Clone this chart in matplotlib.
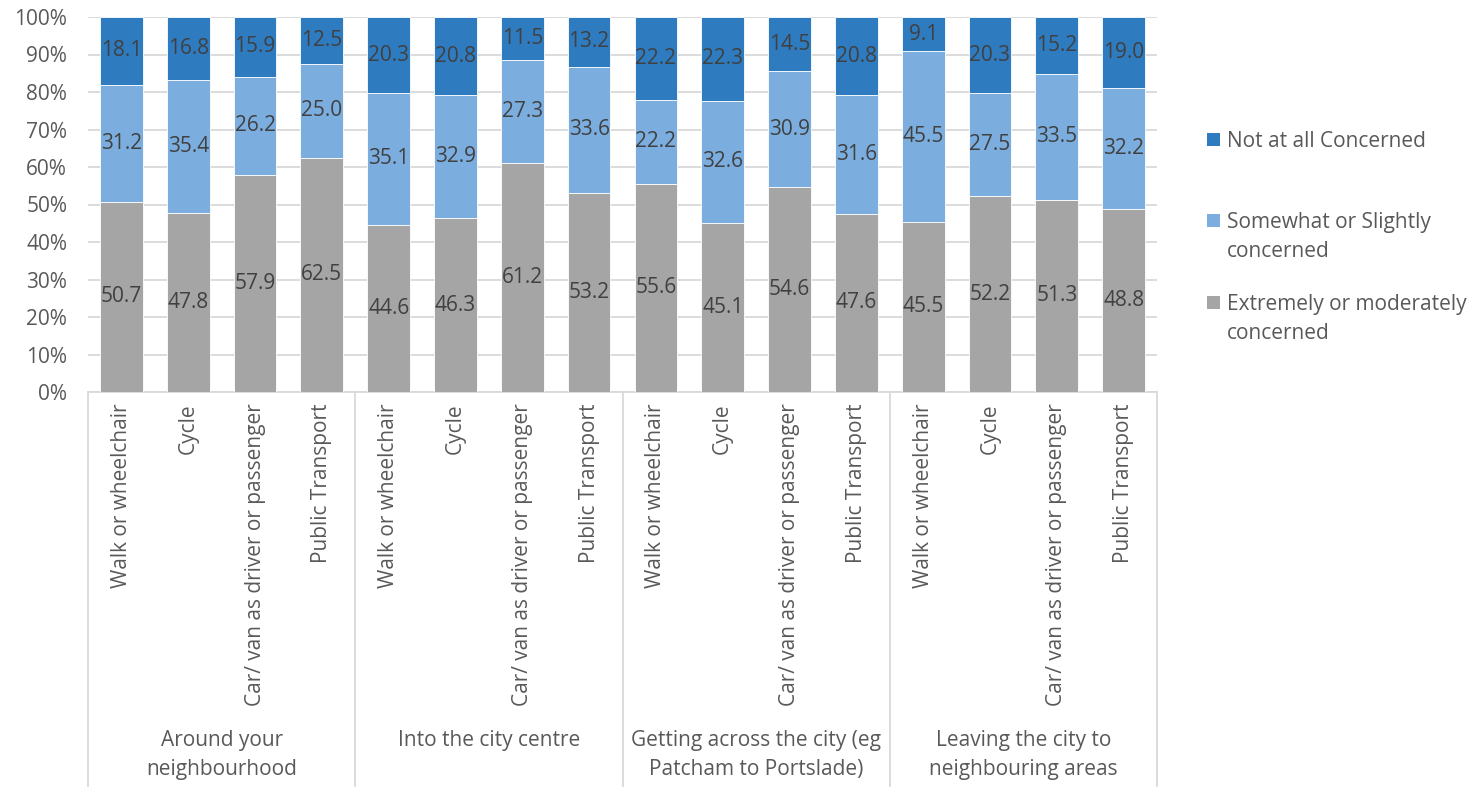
import matplotlib

matplotlib.use("Agg")
import numpy as np
from matplotlib import pyplot as plt
from matplotlib.patches import Rectangle
from matplotlib.ticker import PercentFormatter

plt.rcParams["font.family"] = ["Open Sans", "DejaVu Sans"]

GROUPS = [
    "Around your\nneighbourhood",
    "Into the city centre",
    "Getting across the city (eg\nPatcham to Portslade)",
    "Leaving the city to\nneighbouring areas",
]
MODES = ["Walk or wheelchair", "Cycle", "Car/ van as driver or passenger", "Public Transport"]

extremely = [50.7, 47.8, 57.9, 62.5, 44.6, 46.3, 61.2, 53.2,
             55.6, 45.1, 54.6, 47.6, 45.5, 52.2, 51.3, 48.8]
somewhat = [31.2, 35.4, 26.2, 25.0, 35.1, 32.9, 27.3, 33.6,
            22.2, 32.6, 30.9, 31.6, 45.5, 27.5, 33.5, 32.2]
not_at_all = [18.1, 16.8, 15.9, 12.5, 20.3, 20.8, 11.5, 13.2,
              22.2, 22.3, 14.5, 20.8, 9.1, 20.3, 15.2, 19.0]

SERIES = [
    ("Extremely or moderately\nconcerned", extremely, "#A5A5A5"),
    ("Somewhat or Slightly\nconcerned", somewhat, "#7BAEDE"),
    ("Not at all Concerned", not_at_all, "#2E7BC0"),
]

TEXT = "#595959"
LABEL = "#404040"
GRID = "#D9D9D9"
FS = 15

fig = plt.figure(figsize=(14.77, 7.87), dpi=100)
ax = fig.add_axes([88 / 1477, 1 - 392 / 787, (1157 - 88) / 1477, (392 - 17) / 787])

n = len(extremely)
x = np.arange(n)
raw = np.array([s[1] for s in SERIES])
share = raw / raw.sum(axis=0) * 100
bottom = np.zeros(n)
for (name, values, color), heights, vals in zip(SERIES, share, raw):
    ax.bar(x, heights, width=0.64, bottom=bottom, color=color,
           edgecolor="white", linewidth=0.6, zorder=3)
    for xi, b, h, v in zip(x, bottom, heights, vals):
        ax.text(xi, b + h / 2, f"{v:.1f}", ha="center", va="center",
                fontsize=FS, color=LABEL, zorder=4)
    bottom += heights

ax.set_xlim(-0.5, n - 0.5)
ax.set_ylim(0, 100)
ax.set_yticks(np.arange(0, 101, 10))
ax.yaxis.set_major_formatter(PercentFormatter(decimals=0))
ax.tick_params(axis="y", length=0, labelsize=FS, labelcolor=TEXT, pad=15)
ax.set_xticks([])
ax.grid(axis="y", color=GRID, linewidth=1.3, zorder=0)
for side in ("left", "right", "top"):
    ax.spines[side].set_visible(False)
ax.spines["bottom"].set_color(GRID)
ax.spines["bottom"].set_linewidth(1.3)

# two-level category axis drawn below the plot area
trans = ax.get_xaxis_transform()
per_group = len(MODES)
for i in range(n):
    ax.text(x[i], -0.03, MODES[i % per_group], transform=trans, rotation=90,
            ha="center", va="top", fontsize=FS, color=TEXT, clip_on=False)
for g, name in enumerate(GROUPS):
    centre = g * per_group + (per_group - 1) / 2
    ax.text(centre, -0.9, name, transform=trans, ha="center", va="top",
            fontsize=FS, color=TEXT, linespacing=1.5, clip_on=False)
for g in range(len(GROUPS) + 1):
    ax.plot([g * per_group - 0.5] * 2, [0, -1.05], transform=trans,
            color=GRID, linewidth=1.3, clip_on=False)

# legend on the right, top entry first
legend_rows = [(0.823, SERIES[2]), (0.72, SERIES[1]), (0.615, SERIES[0])]
for y, (name, _, color) in legend_rows:
    fig.patches.append(Rectangle((1207 / 1477, y - 0.008), 13 / 1477, 13 / 787,
                                 transform=fig.transFigure, facecolor=color,
                                 edgecolor="none"))
    fig.text(1227 / 1477, y + 0.011, name, ha="left", va="top", fontsize=FS,
             color=TEXT, linespacing=1.5)

fig.savefig("out.png", dpi=100, facecolor="white")
